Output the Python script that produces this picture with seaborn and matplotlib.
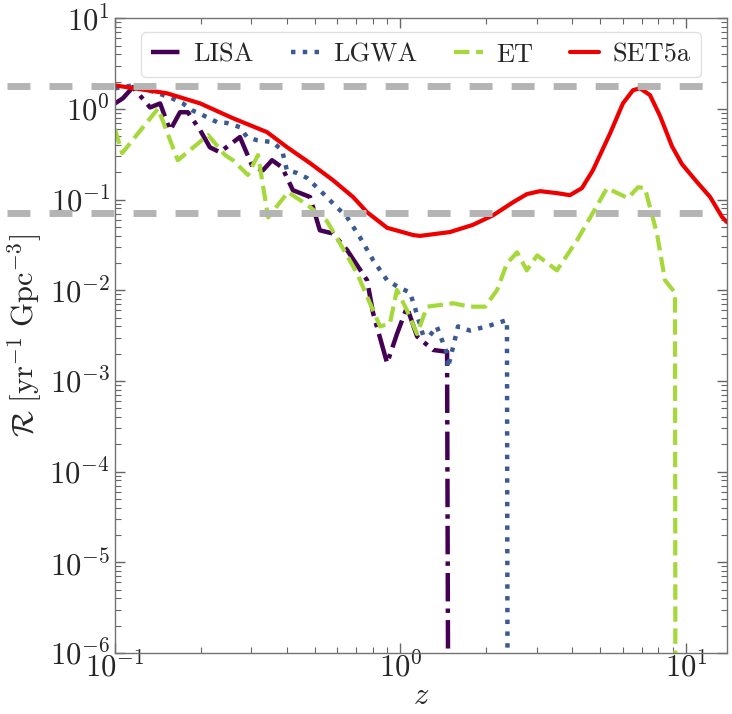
import numpy as np
import matplotlib
matplotlib.use("Agg")
import matplotlib.pyplot as plt
import seaborn as sns

# Values (redshift z, rate R)
lisa_z = [0.100, 0.1066, 0.1156, 0.1328, 0.144, 0.156, 0.169, 0.180, 0.199, 0.215,
          0.233, 0.274, 0.304, 0.330, 0.355, 0.385, 0.420, 0.482, 0.522, 0.580,
          0.650, 0.764, 0.802, 0.898, 0.972, 1.054, 1.143, 1.30, 1.456, 1.48]
lisa_r = [1.15, 1.31, 1.74, 1.04, 1.15, 0.58, 0.92, 0.92, 0.58, 0.378,
          0.333, 0.49, 0.227, 0.211, 0.272, 0.227, 0.127, 0.107, 0.0459, 0.0423,
          0.0278, 0.0129, 0.0056, 0.00157, 0.0033, 0.0065, 0.0031, 0.0022, 0.0021, 1e-10]

lgwa_z = [0.100, 0.1156, 0.138, 0.156, 0.173, 0.186, 0.203, 0.228, 0.247, 0.274,
          0.290, 0.314, 0.357, 0.385, 0.400, 0.434, 0.471, 0.522, 0.580, 0.650,
          0.721, 0.802, 0.898, 0.995, 1.079, 1.124, 1.20, 1.27, 1.34, 1.456,
          1.466, 1.53, 1.59, 1.75, 2.01, 2.36, 2.38]
lgwa_r = [1.69, 1.82, 1.53, 1.34, 1.15, 0.97, 0.855, 0.715, 0.70, 0.63,
          0.49, 0.453, 0.43, 0.35, 0.211, 0.197, 0.173, 0.127, 0.091, 0.064,
          0.0385, 0.0215, 0.0129, 0.0106, 0.0095, 0.0064, 0.0032, 0.0032, 0.0040, 0.0020,
          0.0014, 0.0024, 0.0040, 0.0036, 0.0040, 0.0047, 1e-10]

et_z = [0.100, 0.106, 0.1416, 0.166, 0.212, 0.243, 0.259, 0.292, 0.317, 0.344,
        0.404, 0.474, 0.553, 0.614, 0.704, 0.782, 0.848, 0.918, 0.972, 1.054,
        1.143, 1.239, 1.528, 1.75, 1.98, 2.18, 2.36, 2.56, 2.77, 3.01,
        3.53, 4.15, 5.29, 6.26, 6.79, 7.18, 7.91, 8.44, 9.15, 9.2]
et_r = [0.60, 0.326, 1.01, 0.272, 0.515, 0.31, 0.272, 0.187, 0.31, 0.0638,
        0.121, 0.0867, 0.0578, 0.033, 0.0155, 0.0072, 0.0040, 0.0043, 0.0101, 0.0060,
        0.0033, 0.0066, 0.0072, 0.0066, 0.0066, 0.0101, 0.0198, 0.0262, 0.0166, 0.0243,
        0.0166, 0.0355, 0.134, 0.104, 0.137, 0.134, 0.0422, 0.0129, 0.0094, 1e-10]

set5a_z = [0.100, 0.152, 0.199, 0.259, 0.341, 0.401, 0.482, 0.580, 0.682, 0.764,
           0.898, 1.107, 1.17, 1.49, 1.79, 2.11, 2.48, 2.77, 3.08, 3.53,
           3.92, 4.32, 4.72, 5.42, 6.01, 6.52, 6.90, 7.48, 8.11, 8.93,
           9.68, 10.93, 12.14, 13.37, 13.93]
set5a_r = [1.82, 1.49, 1.15, 0.79, 0.555, 0.378, 0.253, 0.164, 0.107, 0.0726,
           0.0489, 0.0407, 0.0398, 0.0439, 0.0526, 0.0672, 0.0937, 0.115, 0.124, 0.118,
           0.112, 0.134, 0.211, 0.537, 1.15, 1.61, 1.69, 1.42, 0.836, 0.387,
           0.246, 0.156, 0.107, 0.0644, 0.0562]

ref_levels = [1.78, 0.0705]
ref_span = [0.042, 12.2]

sns.set_style("ticks")
plt.rcParams['font.family'] = 'serif'
plt.rcParams['font.serif'] = ['cmr10', 'DejaVu Serif']
plt.rcParams['mathtext.fontset'] = 'cm'
plt.rcParams['axes.formatter.use_mathtext'] = True
plt.rcParams['axes.unicode_minus'] = False

fig = plt.figure(figsize=(7.32, 7.14), dpi=100)
ax = fig.add_axes([0.157, 0.0854, 0.836, 0.889])

sns.lineplot(x=lisa_z, y=lisa_r, ax=ax, color='#440154', linestyle='-.', lw=3.2,
             label='LISA', sort=False, estimator=None)
sns.lineplot(x=lgwa_z, y=lgwa_r, ax=ax, color='#3b5a92', linestyle=':', lw=3.2,
             label='LGWA', sort=False, estimator=None)
sns.lineplot(x=et_z, y=et_r, ax=ax, color='#a5d93a', linestyle='--', lw=3.0,
             label='ET', sort=False, estimator=None)
sns.lineplot(x=set5a_z, y=set5a_r, ax=ax, color='#ee0000', linestyle='-', lw=3.0,
             label='SET5a', sort=False, estimator=None)

# grey reference levels, reaching out past the left spine
for lvl in ref_levels:
    ax.plot(ref_span, [lvl, lvl], color='#b4b4b4', lw=5, dashes=(3.3, 2.75),
            clip_on=False, zorder=3)

ax.set_xscale('log')
ax.set_yscale('log')
ax.set_xlim(0.1, 13.9)
ax.set_ylim(1e-6, 10)

ax.set_xlabel('$z$', fontsize=22, labelpad=0)
ax.set_ylabel(r'$\mathcal{R}\ [\mathrm{yr}^{-1}\ \mathrm{Gpc}^{-3}]$', fontsize=22)

ax.tick_params(which='both', direction='in', top=True, right=True, labelsize=22,
               color='0.4')
ax.tick_params(which='major', length=7, width=1)
ax.tick_params(which='minor', length=4, width=0.8)
ax.tick_params(axis='x', which='both', pad=-1)
for sp in ax.spines.values():
    sp.set_color('0.45')
    sp.set_linewidth(1.0)

leg = ax.legend(loc='upper center', ncol=4, fontsize=19, handlelength=1.1,
                columnspacing=1.4, handletextpad=0.5, borderpad=0.4,
                borderaxespad=0, frameon=True, fancybox=True,
                bbox_to_anchor=(0.5, 0.978))
leg.get_frame().set_edgecolor('0.85')
leg.set_zorder(5)

fig.savefig('out.png', dpi=100)
